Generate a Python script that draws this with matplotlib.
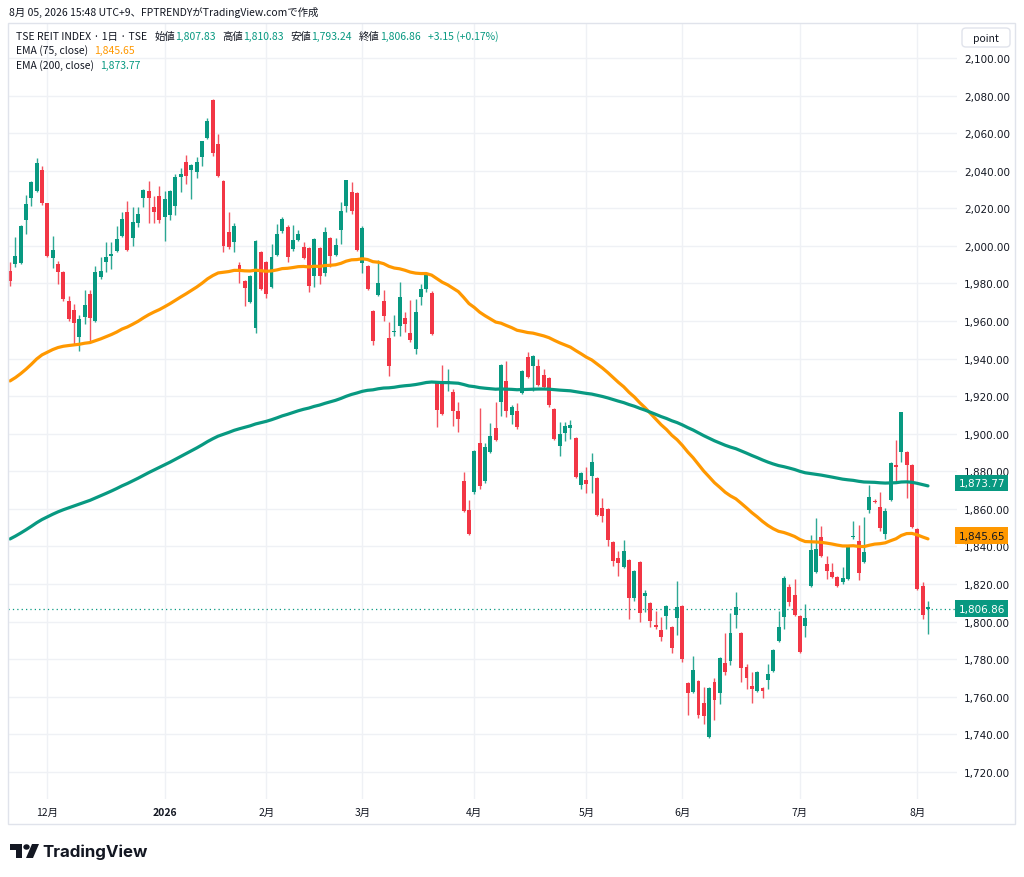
import matplotlib
matplotlib.use('Agg')
import matplotlib.pyplot as plt
import numpy as np
import pandas as pd
from matplotlib.patches import Rectangle, FancyBboxPatch, Polygon, Circle

plt.rcParams['font.family'] = ['Noto Sans CJK JP', 'DejaVu Sans']

# ---------------- data ----------------
start_date = '2025-11-19'
end_date = '2026-08-05'
holidays = ['2025-11-24', '2025-12-31', '2026-01-01', '2026-01-02', '2026-01-12',
            '2026-02-11', '2026-02-23', '2026-03-20', '2026-04-29', '2026-05-04',
            '2026-05-05', '2026-05-06', '2026-07-20']

opens = [1986.6, 1990.4, 1990.9, 2013.8, 2025.5, 2029.2, 2040.4, 2022.8, 1993.6, 1990.4,
         1986.1, 1970.7, 1965.9, 1951.5, 1962.2, 1974.4, 1960.0, 1983.4, 1991.4, 1994.6,
         1997.3, 2005.3, 2018.0, 2004.2, 2012.2, 2025.5, 2029.2, 2020.7, 2026.6, 2015.4,
         2016.4, 2021.2, 2036.7, 2044.6, 2040.4, 2039.3, 2047.3, 2057.4, 2077.6, 2054.2,
         2034.5, 2007.4, 2002.1, 1989.8, 1981.3, 1970.1, 1956.3, 1996.8, 1991.4, 1978.1,
         1995.2, 2007.9, 2010.1, 1998.4, 2003.1, 1999.4, 1998.9, 1984.0, 1998.9, 1985.6,
         2004.2, 1995.2, 2008.5, 2021.2, 2028.7, 2028.1, 1990.9, 1989.3, 1965.3, 1973.9,
         1970.7, 1951.0, 1954.2, 1957.4, 1961.6, 1953.6, 1945.1, 1972.8, 1977.1, 1974.9,
         1927.6, 1928.1, 1927.6, 1922.3, 1912.1, 1874.9, 1859.4, 1869.0, 1895.1, 1874.9,
         1890.3, 1903.1, 1916.9, 1928.1, 1910.0, 1912.1, 1921.7, 1940.9, 1936.1, 1936.1,
         1931.3, 1929.7, 1913.2, 1893.5, 1900.4, 1903.1, 1897.8, 1872.7, 1875.4, 1877.5,
         1876.5, 1860.5, 1860.0, 1842.4, 1833.9, 1829.1, 1832.8, 1812.6, 1831.8, 1813.7,
         1810.0, 1798.2, 1795.6, 1803.0, 1797.2, 1802.0, 1808.4, 1767.4, 1762.6, 1768.4,
         1756.7, 1738.6, 1767.9, 1762.1, 1778.0, 1779.1, 1803.6, 1794.0, 1775.9, 1765.8,
         1763.1, 1764.7, 1769.0, 1773.8, 1789.7, 1802.5, 1818.5, 1814.2, 1803.0, 1797.7,
         1818.9, 1826.4, 1845.1, 1830.7, 1826.4, 1823.8, 1821.1, 1822.7, 1845.1, 1842.9,
         1831.8, 1859.4, 1864.3, 1861.0, 1846.7, 1864.8, 1883.4, 1890.3, 1890.3, 1883.4,
         1849.3, 1819.0, 1807.83]
highs = [1991.4, 2004.7, 2011.0, 2027.1, 2034.3, 2046.8, 2042.5, 2023.0, 2005.3, 1992.0,
         1986.5, 1973.3, 1969.1, 1963.2, 1976.5, 1976.5, 1989.3, 1994.1, 2002.1, 2002.1,
         2010.6, 2018.0, 2023.9, 2020.7, 2020.7, 2030.3, 2034.5, 2026.6, 2031.9, 2029.2,
         2029.7, 2038.3, 2041.5, 2048.4, 2043.6, 2047.3, 2056.0, 2068.1, 2078.2, 2059.6,
         2035.0, 2018.0, 2012.2, 1991.4, 1981.6, 1984.5, 2003.0, 1997.3, 1991.8, 2001.0,
         2011.7, 2015.4, 2011.1, 2011.1, 2008.5, 2002.1, 1999.2, 2004.0, 1999.3, 2010.1,
         2004.5, 2004.2, 2023.4, 2035.3, 2034.0, 2028.5, 2010.6, 1989.7, 1965.7, 1992.5,
         1976.5, 1959.5, 1963.2, 1980.8, 1964.8, 1971.2, 1971.7, 1979.7, 1985.8, 1976.0,
         1928.0, 1936.6, 1934.5, 1923.8, 1916.9, 1879.7, 1864.8, 1891.2, 1913.7, 1895.1,
         1905.7, 1916.9, 1937.0, 1938.8, 1915.3, 1916.4, 1933.8, 1943.5, 1941.8, 1939.8,
         1934.5, 1930.1, 1913.6, 1906.3, 1906.3, 1907.3, 1898.2, 1879.4, 1882.3, 1889.8,
         1877.0, 1865.9, 1860.4, 1842.8, 1837.6, 1843.5, 1833.2, 1827.4, 1832.2, 1816.9,
         1810.4, 1805.7, 1802.5, 1808.8, 1797.6, 1821.6, 1808.8, 1767.8, 1781.8, 1768.8,
         1765.3, 1765.0, 1770.0, 1781.0, 1794.0, 1804.6, 1815.8, 1794.4, 1777.5, 1773.2,
         1773.6, 1765.1, 1777.5, 1785.3, 1805.7, 1824.3, 1820.1, 1822.7, 1803.4, 1809.4,
         1846.0, 1855.2, 1850.9, 1834.9, 1831.2, 1824.2, 1829.1, 1840.2, 1853.6, 1851.5,
         1855.7, 1872.7, 1865.3, 1869.0, 1860.5, 1884.9, 1896.7, 1911.8, 1890.6, 1883.8,
         1849.7, 1821.1, 1810.83]
lows = [1978.7, 1988.8, 1990.5, 2006.3, 2021.2, 2028.9, 2021.8, 1994.0, 1988.2, 1979.7,
        1970.7, 1960.0, 1947.3, 1944.1, 1958.4, 1948.9, 1959.5, 1982.4, 1986.1, 1987.7,
        1996.8, 2004.5, 1997.0, 1999.9, 2010.1, 2020.7, 2012.2, 2012.2, 2012.0, 2002.6,
        2013.8, 2016.4, 2028.7, 2032.9, 2025.0, 2036.1, 2042.5, 2057.0, 2047.8, 2036.5,
        1996.8, 1998.5, 1996.8, 1980.3, 1968.0, 1969.5, 1953.6, 1976.5, 1972.0, 1977.5,
        1994.5, 2007.0, 1991.4, 1997.5, 2002.5, 1993.0, 1975.5, 1978.1, 1979.7, 1984.0,
        1988.8, 1994.7, 2001.0, 2018.0, 2017.0, 1997.3, 1985.6, 1976.5, 1947.3, 1973.3,
        1960.0, 1930.8, 1952.0, 1952.0, 1954.2, 1948.9, 1942.5, 1968.5, 1975.5, 1952.5,
        1903.6, 1910.0, 1922.8, 1904.2, 1900.9, 1858.5, 1846.2, 1868.0, 1870.6, 1873.8,
        1889.8, 1896.0, 1909.5, 1908.9, 1905.2, 1902.6, 1921.2, 1929.8, 1922.8, 1925.5,
        1924.4, 1914.3, 1896.6, 1888.2, 1896.2, 1897.2, 1876.5, 1870.6, 1868.5, 1868.5,
        1856.3, 1853.1, 1840.3, 1829.6, 1824.3, 1828.6, 1801.4, 1811.0, 1799.8, 1805.2,
        1797.2, 1796.1, 1789.7, 1796.1, 1783.3, 1792.9, 1778.6, 1750.3, 1762.0, 1748.7,
        1745.6, 1738.1, 1747.7, 1756.2, 1771.6, 1777.0, 1796.6, 1767.9, 1764.2, 1756.7,
        1762.6, 1759.4, 1764.2, 1773.3, 1789.2, 1796.1, 1808.4, 1803.2, 1783.5, 1791.8,
        1818.4, 1826.0, 1834.5, 1822.7, 1823.3, 1818.5, 1820.1, 1822.2, 1844.0, 1822.2,
        1831.3, 1857.8, 1863.3, 1848.3, 1844.0, 1864.3, 1874.3, 1885.0, 1865.9, 1850.0,
        1817.0, 1801.6, 1793.24]
closes = [1981.3, 1994.6, 2010.6, 2022.3, 2034.0, 2044.1, 2022.8, 1994.6, 1997.8, 1986.1,
          1971.7, 1961.1, 1959.0, 1961.1, 1968.5, 1961.6, 1986.1, 1986.6, 1994.1, 1995.7,
          2003.7, 2014.3, 1997.8, 2012.7, 2017.0, 2029.7, 2025.5, 2018.0, 2013.8, 2025.0,
          2029.2, 2036.7, 2038.3, 2037.2, 2043.1, 2044.6, 2055.8, 2066.5, 2049.4, 2037.2,
          2000.0, 1999.4, 2010.6, 1986.6, 1977.6, 1984.0, 2002.6, 1977.1, 1974.4, 1994.1,
          2006.3, 2014.3, 1994.1, 2003.1, 2006.3, 1993.6, 1978.7, 2003.7, 1984.0, 2007.4,
          1994.6, 2000.5, 2018.6, 2035.1, 2018.6, 1997.8, 2009.5, 1977.1, 1949.4, 1980.3,
          1962.7, 1936.1, 1954.7, 1972.8, 1958.4, 1949.9, 1964.8, 1977.1, 1985.6, 1953.1,
          1912.7, 1910.5, 1928.1, 1912.1, 1907.9, 1858.9, 1846.7, 1890.8, 1872.2, 1893.0,
          1898.8, 1896.7, 1936.6, 1912.1, 1914.3, 1903.6, 1933.4, 1930.2, 1941.4, 1926.0,
          1924.9, 1915.3, 1897.2, 1899.9, 1904.1, 1904.7, 1877.0, 1879.1, 1873.3, 1885.0,
          1856.8, 1856.3, 1843.5, 1832.3, 1831.2, 1837.6, 1812.6, 1827.0, 1804.6, 1815.3,
          1800.4, 1797.2, 1791.8, 1808.4, 1786.0, 1807.8, 1780.1, 1762.1, 1774.3, 1750.3,
          1749.8, 1764.7, 1758.3, 1780.7, 1773.2, 1794.0, 1807.8, 1775.4, 1770.0, 1764.2,
          1773.2, 1763.1, 1772.2, 1784.9, 1797.2, 1823.3, 1810.5, 1803.6, 1783.9, 1802.0,
          1838.1, 1838.7, 1834.9, 1827.0, 1823.8, 1819.0, 1823.3, 1839.8, 1845.6, 1825.9,
          1837.1, 1866.4, 1863.7, 1849.9, 1858.9, 1884.5, 1882.3, 1911.6, 1883.4, 1850.4,
          1817.4, 1803.71, 1806.86]

ema75_start = 1928.1     # EMA(75) value at the first visible bar
ema200_start = 1844.0    # EMA(200) value at the first visible bar
ema75_last = 1845.65
ema200_last = 1873.77

y_ticks = list(range(1720, 2101, 20))
title_text = '8月 05, 2026 15:48 UTC+9、FPTRENDYがTradingView.comで作成'
symbol_text = 'TSE REIT INDEX · 1日 · TSE'

# ---------------- colours ----------------
UP = '#089981'
DN = '#F23645'
ORANGE = '#FF9800'
TXT = '#131722'
GRID = '#eff1f5'
NUMFONT = ['DejaVu Sans']

W, H = 1024, 878
fig = plt.figure(figsize=(W / 100, H / 100), dpi=100)
fig.patch.set_facecolor('white')

def fx(x):
    return x / W

def fy(y):
    return 1 - y / H

L, R, T, B = 8, 957, 24, 800
ax = fig.add_axes([fx(L), fy(B), (R - L) / W, (B - T) / H])

dates = pd.bdate_range(start_date, end_date, freq='C', holidays=holidays)
n = len(closes)
dates = dates[:n]
x = np.arange(n)

o = np.array(opens); h = np.array(highs); l = np.array(lows); c = np.array(closes)
prev = np.concatenate([[o[0]], c[:-1]])
up = c >= prev
cols = np.where(up, UP, DN)

# EMA lines, computed from the closes
def ema(values, period, seed):
    a = 2.0 / (period + 1)
    out = [seed]
    for v in values[1:]:
        out.append(out[-1] + a * (v - out[-1]))
    return np.array(out)

e75 = ema(c, 75, ema75_start)
e200 = ema(c, 200, ema200_start)

# grid / ticks
ax.set_axisbelow(True)
ax.set_yticks(y_ticks)
ax.yaxis.set_major_formatter(matplotlib.ticker.FuncFormatter(lambda v, p: f'{v:,.2f}'))
months = pd.Series(dates.month)
mstart = [i for i in range(1, n) if months[i] != months[i - 1]]
mlabels = []
for i in mstart:
    d = dates[i]
    mlabels.append(str(d.year) if d.month == 1 else f'{d.month}月')
ax.set_xticks(mstart)
ax.set_xticklabels(mlabels)
for lab, txt in zip(ax.get_xticklabels(), mlabels):
    if not txt.endswith('月'):
        lab.set_fontweight('bold')
ax.grid(True, color=GRID, lw=1)

# candles
body_h = np.maximum(np.abs(c - o), 0.45)
ax.vlines(x, l, h, colors=cols, lw=1.0, zorder=3, alpha=0.85)
ax.bar(x, body_h, bottom=np.minimum(o, c), width=0.74, color=cols, zorder=4, linewidth=0)

ax.plot(x, e75, color=ORANGE, lw=2.3, zorder=5, solid_capstyle='round')
ax.plot(x, e200, color=UP, lw=2.3, zorder=5, solid_capstyle='round')

ax.axhline(c[-1], color=UP, lw=0.9, ls=(0, (1, 2.5)), zorder=2)

ax.set_xlim(-0.375, 177.44)
ax.set_ylim(1705.6, 2118.6)
for s in ax.spines.values():
    s.set_visible(False)
ax.yaxis.tick_right()
ax.tick_params(axis='y', length=0, pad=5, labelsize=7.5, labelcolor=TXT)
ax.tick_params(axis='x', length=0, pad=6, labelsize=7.5, labelcolor=TXT)
for lab in ax.get_yticklabels():
    lab.set_family(NUMFONT)

# price tags
def tag(val, fc, tc):
    ax.text(1.0 + 1.5 / (R - L), val, f'{val:,.2f}', transform=ax.get_yaxis_transform(),
            ha='left', va='center', fontsize=7.5, color=tc, zorder=30, clip_on=False,
            family=NUMFONT,
            bbox=dict(boxstyle='square,pad=0.33', fc=fc, ec='none'))

tag(ema200_last, UP, 'white')
tag(ema75_last, ORANGE, TXT)
tag(c[-1], UP, 'white')

# frame
fig.add_artist(Rectangle((fx(8), fy(825)), (1015 - 8) / W, (825 - 24) / H,
                         transform=fig.transFigure, fill=False, ec='#e0e3eb', lw=1))
# 'point' box
fig.add_artist(FancyBboxPatch((fx(962), fy(48)), 48 / W, 19 / H,
                              boxstyle='round,pad=0,rounding_size=0.004',
                              transform=fig.transFigure, fill=True, fc='white',
                              ec='#e0e3eb', lw=1))
fig.text(fx(986), fy(38.5), 'point', ha='center', va='center', fontsize=7.5, color=TXT)

# title
fig.text(fx(9), fy(12), title_text, ha='left', va='center', fontsize=7.5, color=TXT)

# legend lines
fig.canvas.draw()
renderer = fig.canvas.get_renderer()

def segments(x0, y, segs, fs=7.5):
    xp = x0
    for txt, col, gap in segs:
        xp += gap
        t = fig.text(fx(xp), fy(y), txt, ha='left', va='center', fontsize=fs, color=col)
        bb = t.get_window_extent(renderer=renderer)
        xp += bb.width

chg = c[-1] - c[-2]
pct = chg / c[-2] * 100
segments(16, 37, [(symbol_text, TXT, 0),
                  ('始値', TXT, 7), (f'{o[-1]:,.2f}', UP, 0),
                  ('高値', TXT, 7), (f'{h[-1]:,.2f}', UP, 0),
                  ('安値', TXT, 7), (f'{l[-1]:,.2f}', UP, 0),
                  ('終値', TXT, 7), (f'{c[-1]:,.2f}', UP, 0),
                  (f'{chg:+.2f} ({pct:+.2f}%)', UP, 7)])
segments(16, 51, [('EMA (75, close)', TXT, 0), (f'{ema75_last:,.2f}', ORANGE, 6)])
segments(16, 66, [('EMA (200, close)', TXT, 0), (f'{ema200_last:,.2f}', UP, 6)])

# TradingView logo
def P(pts):
    return [(fx(a), fy(b)) for a, b in pts]

fig.add_artist(Polygon(P([(10, 845), (22, 845), (22, 859), (16, 859), (16, 851), (10, 851)]),
                       closed=True, transform=fig.transFigure, fc=TXT, ec='none'))
fig.add_artist(Circle((fx(26.5), fy(848)), 3.2 / W, transform=fig.transFigure, fc=TXT, ec='none'))
fig.add_artist(Polygon(P([(32, 845), (39, 845), (33, 859), (26, 859)]),
                       closed=True, transform=fig.transFigure, fc=TXT, ec='none'))
fig.text(fx(42), fy(852), 'TradingView', ha='left', va='center', fontsize=12.2,
         fontweight='bold', color=TXT, family=['Inter', 'DejaVu Sans'])

fig.savefig('out.png', dpi=100, facecolor='white')
